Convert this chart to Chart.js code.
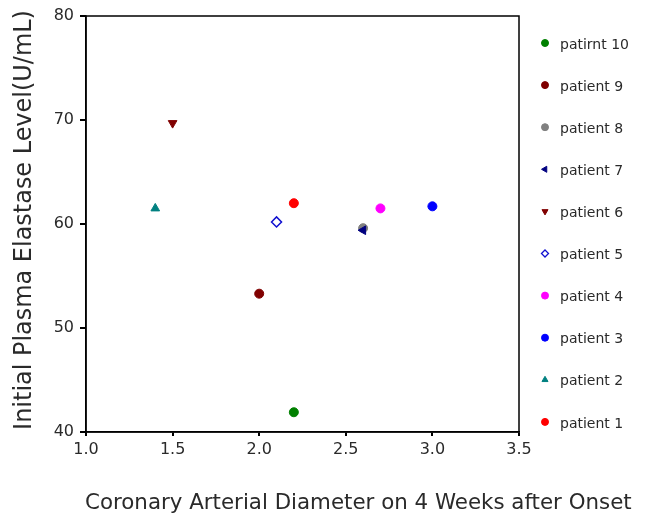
<!DOCTYPE html>
<html><head><meta charset="utf-8">
<script src="https://cdn.jsdelivr.net/npm/chart.js@4"></script>
<style>html,body{margin:0;padding:0;background:#fff}#wrap{width:650px;height:519px}</style>
</head><body><div id="wrap"><canvas id="c" width="650" height="519"></canvas></div>
<script>
const patients = ['patient 1','patient 2','patient 3','patient 4','patient 5','patient 6','patient 7','patient 8','patient 9','patirnt 10'];
const diameterX = [2.2, 1.4, 3.0, 2.7, 2.1, 1.5, 2.6, 2.6, 2.0, 2.2];
const elastaseY = [62.0, 61.5, 61.7, 61.5, 60.2, 69.7, 59.4, 59.6, 53.3, 41.9];
const xTicks = [1.0, 1.5, 2.0, 2.5, 3.0, 3.5];
const yTicks = [40, 50, 60, 70, 80];
const colors = ['#ff0000','#008080','#0000ff','#ff00ff','#1010d0','#800000','#000080','#808080','#800000','#008000'];
const shapes = ['circle','triangle','circle','circle','rectRot','triangle','triangle','circle','circle','circle'];
const rotations = [0,0,0,0,0,180,270,0,0,0];
const hollow = [false,false,false,false,true,false,false,false,false,false];
const xTitle = 'Coronary Arterial Diameter on 4 Weeks after Onset';
const yTitle = 'Initial Plasma Elastase Level(U/mL)';

const FONT = '"DejaVu Sans", sans-serif';
const TXT = '#2a2a2a';

const datasets = patients.map((name, i) => ({
  label: name,
  data: [{x: diameterX[i], y: elastaseY[i]}],
  pointStyle: shapes[i],
  rotation: rotations[i],
  pointRadius: shapes[i] === 'circle' ? 4.5 : 5,
  backgroundColor: hollow[i] ? '#ffffff' : colors[i],
  borderColor: colors[i],
  borderWidth: hollow[i] ? 1.5 : 1
}));

function fitFont(ctx, text, width, base) {
  ctx.font = base + 'px ' + FONT;
  const w = ctx.measureText(text).width;
  return base * width / w;
}

const frameAndLegend = {
  id: 'frameAndLegend',
  afterDraw(chart) {
    const ctx = chart.ctx, a = chart.chartArea;
    ctx.save();
    ctx.strokeStyle = '#000';
    ctx.lineWidth = 1.5;
    ctx.strokeRect(a.left, a.top, a.right - a.left, a.bottom - a.top);

    // axis titles
    ctx.fillStyle = TXT;
    ctx.textBaseline = 'middle';
    let fs = fitFont(ctx, xTitle, 547, 20);
    ctx.font = fs + 'px ' + FONT;
    ctx.textAlign = 'left';
    ctx.fillText(xTitle, a.left - 1, 503);
    fs = fitFont(ctx, yTitle, 420, 20);
    ctx.font = fs + 'px ' + FONT;
    ctx.save();
    ctx.translate(25, 220);
    ctx.rotate(-Math.PI / 2);
    ctx.textAlign = 'center';
    ctx.fillText(yTitle, 0, 0);
    ctx.restore();

    // legend
    const x0 = a.right + 26, textX = a.right + 41, yStart = 45, step = 42.1;
    ctx.font = '14px ' + FONT;
    ctx.textAlign = 'left';
    for (let k = 0; k < patients.length; k++) {
      const i = patients.length - 1 - k;
      const y = yStart + k * step;
      ctx.save();
      ctx.fillStyle = hollow[i] ? '#ffffff' : colors[i];
      ctx.strokeStyle = colors[i];
      ctx.lineWidth = hollow[i] ? 1.3 : 1;
      Chart.helpers.drawPoint(ctx, {pointStyle: shapes[i], rotation: rotations[i], radius: 3.5, borderWidth: ctx.lineWidth}, x0, y - 2);
      ctx.restore();
      ctx.fillStyle = TXT;
      ctx.fillText(patients[i], textX, y);
    }
    ctx.restore();
  }
};

new Chart(document.getElementById('c'), {
  type: 'scatter',
  data: { datasets },
  options: {
    responsive: false,
    devicePixelRatio: 1,
    animation: false,
    layout: { padding: { top: 16, right: 131, left: 0, bottom: 0 } },
    plugins: { legend: { display: false }, tooltip: { enabled: false } },
    scales: {
      x: {
        type: 'linear', min: 1, max: 3.5,
        afterBuildTicks: s => { s.ticks = xTicks.map(v => ({ value: v })); },
        afterFit: s => { s.height = 87; },
        grid: { drawOnChartArea: false, drawTicks: true, tickLength: 4, color: '#000', lineWidth: 2 },
        border: { display: true, color: '#000', width: 1.5 },
        ticks: { callback: v => Number(v).toFixed(1), color: TXT, font: { family: FONT, size: 16 }, padding: 4, maxRotation: 0 },
        title: { display: false }
      },
      y: {
        type: 'linear', min: 40, max: 80,
        afterBuildTicks: s => { s.ticks = yTicks.map(v => ({ value: v })); },
        afterFit: s => { s.width = 86; },
        grid: { drawOnChartArea: false, drawTicks: true, tickLength: 6, color: '#000', lineWidth: 2 },
        border: { display: true, color: '#000', width: 1.5 },
        ticks: { color: TXT, font: { family: FONT, size: 16 }, padding: 6 },
        title: { display: false }
      }
    }
  },
  plugins: [frameAndLegend]
});
</script></body></html>
